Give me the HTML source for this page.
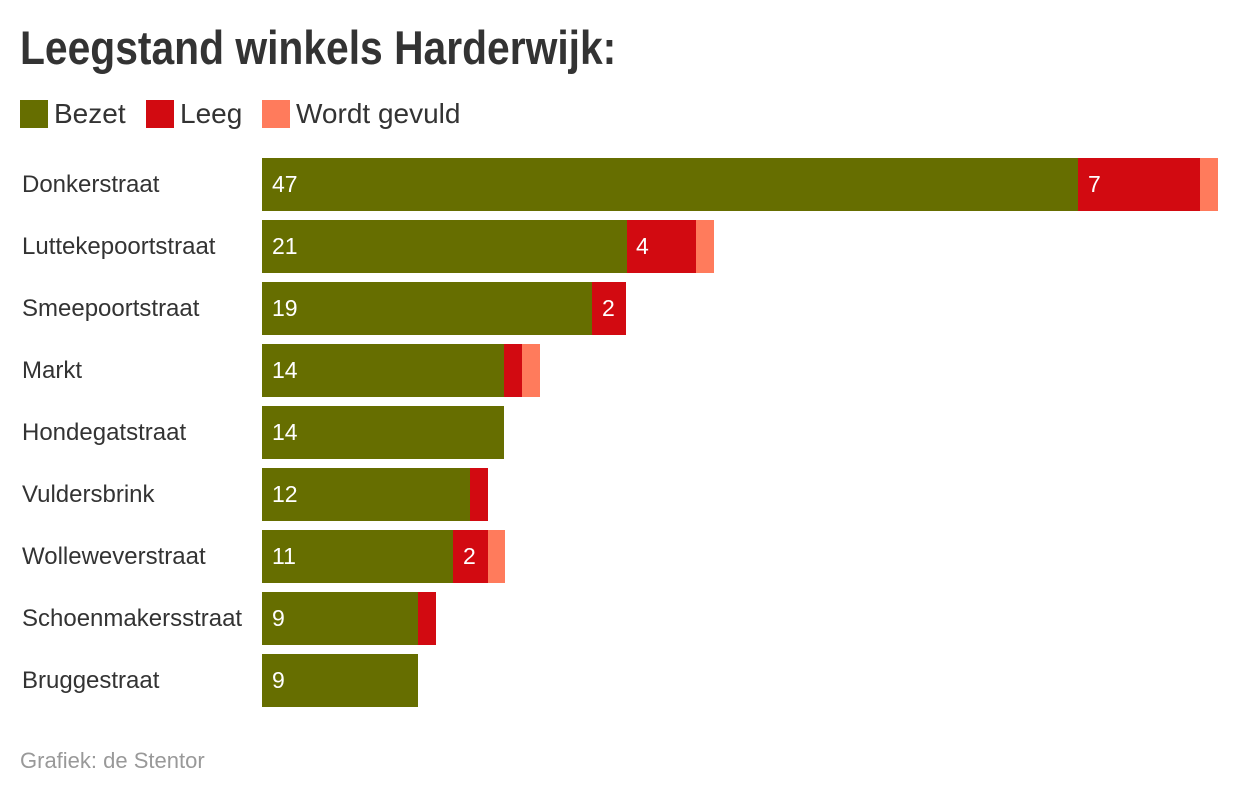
<!DOCTYPE html>
<html><head><meta charset="utf-8"><style>
body{margin:0;width:1240px;height:792px;background:#fff;font-family:"Liberation Sans",sans-serif;position:relative;overflow:hidden;color:#333}
.t{position:absolute;left:20px;top:20px;font-weight:bold;font-size:47px;color:#333;transform:scaleX(0.868);transform-origin:0 0;white-space:nowrap}
.lg{position:absolute;top:99px;height:30px;font-size:28px;line-height:30px}
.sq{position:absolute;top:100px;width:28px;height:28px}
.lab{position:absolute;left:22px;font-size:24px;line-height:53px;height:53px}
.b{position:absolute;height:53px}
.v{position:absolute;color:#fff;font-size:23px;line-height:53px}
.g{background:#666e00}.r{background:#d20a11}.o{background:#ff7b5c}
.f{position:absolute;left:20px;top:748px;font-size:22px;color:#999}
</style></head><body>
<div class="t">Leegstand winkels Harderwijk:</div>
<div class="sq g" style="left:20px"></div><div class="lg" style="left:54px">Bezet</div>
<div class="sq r" style="left:146px"></div><div class="lg" style="left:180px">Leeg</div>
<div class="sq o" style="left:262px"></div><div class="lg" style="left:296px">Wordt gevuld</div>

<div class="lab" style="top:158px">Donkerstraat</div>
<div class="b g" style="top:158px;left:262px;width:816px"></div><div class="b r" style="top:158px;left:1078px;width:122px"></div><div class="b o" style="top:158px;left:1200px;width:18px"></div>
<div class="v" style="top:158px;left:272px">47</div><div class="v" style="top:158px;left:1088px">7</div>

<div class="lab" style="top:220px">Luttekepoortstraat</div>
<div class="b g" style="top:220px;left:262px;width:365px"></div><div class="b r" style="top:220px;left:627px;width:69px"></div><div class="b o" style="top:220px;left:696px;width:18px"></div>
<div class="v" style="top:220px;left:272px">21</div><div class="v" style="top:220px;left:636px">4</div>

<div class="lab" style="top:282px">Smeepoortstraat</div>
<div class="b g" style="top:282px;left:262px;width:330px"></div><div class="b r" style="top:282px;left:592px;width:34px"></div>
<div class="v" style="top:282px;left:272px">19</div><div class="v" style="top:282px;left:602px">2</div>

<div class="lab" style="top:344px">Markt</div>
<div class="b g" style="top:344px;left:262px;width:242px"></div><div class="b r" style="top:344px;left:504px;width:18px"></div><div class="b o" style="top:344px;left:522px;width:18px"></div>
<div class="v" style="top:344px;left:272px">14</div>

<div class="lab" style="top:406px">Hondegatstraat</div>
<div class="b g" style="top:406px;left:262px;width:242px"></div>
<div class="v" style="top:406px;left:272px">14</div>

<div class="lab" style="top:468px">Vuldersbrink</div>
<div class="b g" style="top:468px;left:262px;width:208px"></div><div class="b r" style="top:468px;left:470px;width:18px"></div>
<div class="v" style="top:468px;left:272px">12</div>

<div class="lab" style="top:530px">Wolleweverstraat</div>
<div class="b g" style="top:530px;left:262px;width:191px"></div><div class="b r" style="top:530px;left:453px;width:35px"></div><div class="b o" style="top:530px;left:488px;width:17px"></div>
<div class="v" style="top:530px;left:272px">11</div><div class="v" style="top:530px;left:463px">2</div>

<div class="lab" style="top:592px">Schoenmakersstraat</div>
<div class="b g" style="top:592px;left:262px;width:156px"></div><div class="b r" style="top:592px;left:418px;width:18px"></div>
<div class="v" style="top:592px;left:272px">9</div>

<div class="lab" style="top:654px">Bruggestraat</div>
<div class="b g" style="top:654px;left:262px;width:156px"></div>
<div class="v" style="top:654px;left:272px">9</div>

<div class="f">Grafiek: de Stentor</div>
</body></html>
